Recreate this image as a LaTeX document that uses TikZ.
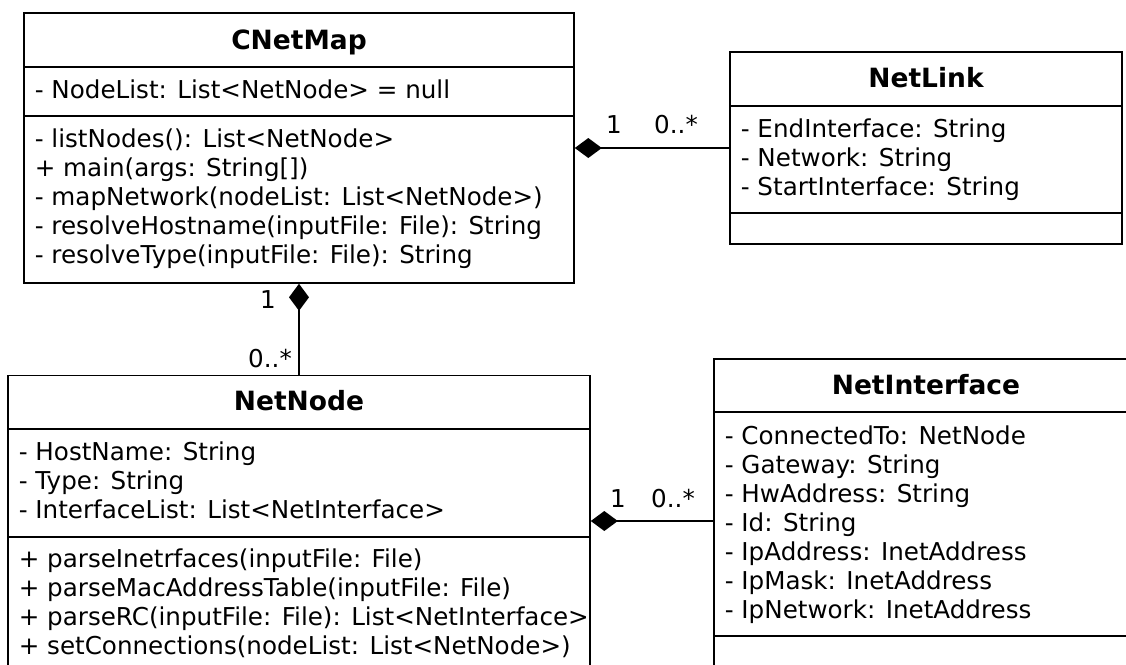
\documentclass[tikz,border=0pt]{standalone}
\usepackage{fontspec}
\setmainfont{DejaVu Sans}
\usetikzlibrary{arrows.meta}
\begin{document}
\begin{tikzpicture}[x=1pt, y=-1pt, line width=1.6pt,
    classbox/.style={draw, inner sep=0pt},
    title/.style={anchor=base, inner sep=0pt, font=\bfseries\fontsize{26.5}{29}\selectfont},
    members/.style={anchor=base west, align=left, inner sep=0pt, font=\fontsize{24.6}{29}\selectfont},
    mult/.style={anchor=base, inner sep=0pt, font=\fontsize{24.6}{29}\selectfont},
    comp/.style={{Diamond[length=27pt,width=20pt]}-}]
      \clip (0,0) rectangle (1126,664);
      % CNetMap
      \node[classbox, minimum width=550, minimum height=270] (cnetmap) at (299,148) {};
      \draw (cnetmap.west |- 0,67) -- (cnetmap.east |- 0,67);
      \draw (cnetmap.west |- 0,116) -- (cnetmap.east |- 0,116);
      \node[title] (cnetmap-name) at (299,49) {CNetMap};
      \node[members] (cnetmap-attr) at (34,98) {- NodeList: List<NetNode> = null};
      % base of a block = its last line
      \node[members] (cnetmap-ops) at (34,263) {- listNodes(): List<NetNode>\\
            + main(args: String[])\\
            - mapNetwork(nodeList: List<NetNode>)\\
            - resolveHostname(inputFile: File): String\\
            - resolveType(inputFile: File): String};
      % NetLink
      \node[classbox, minimum width=392, minimum height=192] (netlink) at (926,148) {};
      \draw (netlink.west |- 0,106) -- (netlink.east |- 0,106);
      \draw (netlink.west |- 0,213) -- (netlink.east |- 0,213);
      \node[title] (netlink-name) at (926,87) {NetLink};
      \node[members] (netlink-attr) at (740,195) {- EndInterface: String\\
            - Network: String\\
            - StartInterface: String};
      % NetNode
      \node[classbox, minimum width=582, minimum height=291] (netnode) at (299,521) {};
      \draw (netnode.west |- 0,429) -- (netnode.east |- 0,429);
      \draw (netnode.west |- 0,537) -- (netnode.east |- 0,537);
      \node[title] (netnode-name) at (299,410) {NetNode};
      \node[members] (netnode-attr) at (18,518) {- HostName: String\\
            - Type: String\\
            - InterfaceList: List<NetInterface>};
      \node[members] (netnode-ops) at (18,654) {+ parseInetrfaces(inputFile: File)\\
            + parseMacAddressTable(inputFile: File)\\
            + parseRC(inputFile: File): List<NetInterface>\\
            + setConnections(nodeList: List<NetNode>)};
      % NetInterface
      \node[classbox, minimum width=424, minimum height=324] (netinterface) at (926,521) {};
      \draw (netinterface.west |- 0,412) -- (netinterface.east |- 0,412);
      \draw (netinterface.west |- 0,636) -- (netinterface.east |- 0,636);
      \node[title] (netinterface-name) at (926,394) {NetInterface};
      \node[members] (netinterface-attr) at (724,618) {- ConnectedTo: NetNode\\
            - Gateway: String\\
            - HwAddress: String\\
            - Id: String\\
            - IpAddress: InetAddress\\
            - IpMask: InetAddress\\
            - IpNetwork: InetAddress};
      % compositions
      \draw[comp] (cnetmap) -- (netlink);
      \draw[comp] (cnetmap) -- (netnode);
      \draw[comp] (netnode) -- (netinterface);
      \node[mult] (link-one) at (614,133) {1};
      \node[mult] (link-many) at (676,133) {0..*};
      \node[mult] (node-one) at (268,308) {1};
      \node[mult] (node-many) at (270,367) {0..*};
      \node[mult] (iface-one) at (618,507) {1};
      \node[mult] (iface-many) at (673,507) {0..*};
\end{tikzpicture}
\end{document}
